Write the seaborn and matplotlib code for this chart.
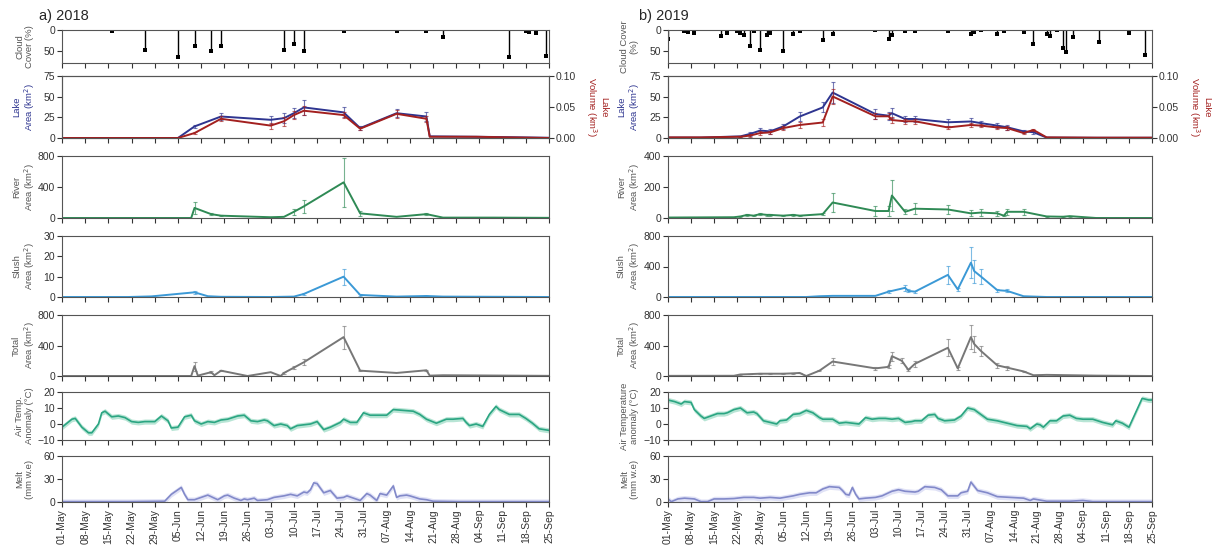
import matplotlib
matplotlib.use("Agg")
import matplotlib.pyplot as plt
import numpy as np
import seaborn as sns

sns.set_style("ticks")
plt.rcParams['font.family'] = ['Liberation Sans', 'DejaVu Sans']

# x axis in days since 1 May
tick_days = list(range(0, 148, 7))
tick_labels = ['01-May', '08-May', '15-May', '22-May', '29-May', '05-Jun', '12-Jun',
               '19-Jun', '26-Jun', '03-Jul', '10-Jul', '17-Jul', '24-Jul', '31-Jul',
               '07-Aug', '14-Aug', '21-Aug', '28-Aug', '04-Sep', '11-Sep', '18-Sep', '25-Sep']

# ---------------- 2018 ----------------
# (day, cloud %)
cloud18 = [(15, 2), (25, 48), (35, 64), (40, 37), (45, 50), (48, 38), (67, 47), (70, 32),
           (73, 50), (85, 3), (101, 2), (110, 2), (115, 17), (135, 64), (140, 2), (141, 4),
           (143, 8), (146, 62)]
# (day, area, area err, volume, volume err)
lake18 = [(0, 0, 0, 0, 0), (35, 0, 0, 0, 0), (40, 14, 2, 0.008, 0.002), (48, 26, 4, 0.031, 0.004),
          (63, 22, 5, 0.020, 0.005), (67, 24, 6, 0.027, 0.007), (70, 30, 6, 0.037, 0.007),
          (73, 37, 9, 0.044, 0.007), (85, 31, 6, 0.037, 0.005), (90, 12, 2, 0.015, 0.002),
          (101, 30, 5, 0.039, 0.006), (110, 26, 5, 0.031, 0.005), (111, 2, 0, 0.002, 0),
          (125, 1.5, 0, 0.002, 0), (135, 1, 0, 0.001, 0), (147, 0.3, 0, 0.0, 0)]
# (day, area, err)
river18 = [(0, 0, 0), (39, 0, 0), (40, 130, 80), (45, 50, 15), (48, 30, 5), (63, 10, 0),
           (67, 15, 0), (70, 80, 40), (73, 150, 80), (85, 460, 320), (90, 60, 30), (101, 15, 0),
           (110, 50, 15), (115, 5, 0), (130, 5, 0), (147, 2, 0)]
slush18 = [(0, 0, 0), (20, 0, 0), (27, 0.3, 0), (40, 2.3, 0.7), (44, 0.4, 0), (48, 0.1, 0),
           (63, 0, 0), (70, 0.2, 0), (73, 1.5, 0.3), (85, 10, 4), (90, 1, 0.3), (101, 0.2, 0),
           (110, 0.5, 0.2), (115, 0.2, 0), (147, 0, 0)]
total18 = [(0, 0, 0), (39, 0, 0), (40, 130, 60), (41, 5, 0), (45, 50, 10), (46, 10, 0),
           (48, 70, 10), (56, 0, 0), (63, 50, 0), (66, 0, 0), (67, 40, 10), (70, 110, 20),
           (73, 180, 40), (85, 510, 150), (90, 70, 10), (101, 40, 0), (110, 75, 10), (111, 5, 0),
           (115, 10, 0), (147, 2, 0)]
# (day, value)
air18 = [(0, -2), (3, 3), (4, 3.5), (6, -2), (8, -5.5), (9, -5.5), (11, 0), (12, 7), (13, 8),
         (15, 4.5), (17, 5), (19, 4), (21, 1.5), (23, 1), (25, 1.5), (28, 1.5), (30, 5), (32, 2),
         (33, -2.5), (35, -2), (37, 4.5), (39, 5.5), (40, 2), (42, 0), (44, 1.5), (46, 1),
         (48, 2.5), (50, 3), (53, 5), (55, 5.5), (57, 2), (59, 1.5), (61, 2.5), (62, 2), (64, -1),
         (66, 0), (68, -1), (69, -3), (71, -1), (73, -0.5), (75, 0), (77, 1.5), (79, -3.5),
         (81, -2), (84, 1), (85, 3), (87, 1), (89, 1), (91, 7), (93, 5.5), (95, 5.5), (98, 5.5),
         (100, 9), (103, 8.5), (106, 8), (108, 6), (110, 3), (113, 0.5), (116, 3), (118, 3),
         (121, 3.5), (122, 1), (123, -1), (125, 0), (127, -1.5), (129, 6), (131, 11), (132, 9),
         (135, 6), (138, 6), (140, 3.5), (142, 0.5), (144, -3), (147, -4)]
melt18 = [(0, 0.5), (20, 0.5), (31, 1), (33, 10), (34, 13), (36, 19), (37, 10), (38, 3), (40, 3),
          (42, 6), (44, 9), (46, 5), (47, 3), (49, 8), (50, 9), (52, 5), (54, 2), (55, 4), (56, 3),
          (58, 5), (59, 2), (62, 3), (64, 6), (67, 8), (69, 10), (71, 8), (73, 13), (74, 12),
          (75, 16), (76, 25), (77, 24), (79, 12), (81, 15), (83, 5), (85, 6), (86, 8), (88, 5),
          (90, 2), (92, 11), (93, 9), (95, 2), (96, 11), (98, 9), (100, 21), (101, 6), (102, 8),
          (104, 9), (105, 8), (108, 4), (110, 3), (112, 1), (120, 0.5), (147, 0.5)]

# ---------------- 2019 ----------------
cloud19 = [(0, 22), (5, 2), (6, 4), (8, 8), (16, 14), (18, 8), (21, 3), (22, 7), (23, 12),
           (25, 38), (26, 2), (28, 48), (30, 12), (31, 8), (35, 50), (38, 10), (40, 2), (47, 24),
           (50, 10), (63, 1), (67, 22), (68, 12), (72, 2), (75, 2), (85, 3), (92, 10), (93, 4),
           (95, 1), (100, 10), (102, 2), (108, 5), (111, 33), (115, 10), (116, 14), (118, 1),
           (120, 42), (121, 52), (123, 16), (131, 28), (140, 8), (145, 60)]
lake19 = [(0, 0.5, 0, 0.001, 0), (10, 0.5, 0, 0.001, 0), (22, 2, 1, 0.002, 0.001),
          (25, 5, 2, 0.004, 0.002), (28, 9, 3, 0.008, 0.003), (31, 8, 3, 0.009, 0.003),
          (35, 14, 3, 0.016, 0.003), (40, 26, 5, 0.021, 0.005), (47, 37, 6, 0.025, 0.006),
          (50, 55, 13, 0.067, 0.012), (63, 29, 6, 0.035, 0.005), (67, 27, 5, 0.035, 0.005),
          (68, 30, 6, 0.029, 0.005), (72, 23, 4, 0.027, 0.004), (75, 23, 4, 0.027, 0.004),
          (85, 19, 4, 0.017, 0.003), (92, 20, 4, 0.021, 0.004), (95, 18, 3, 0.020, 0.003),
          (100, 15, 3, 0.017, 0.003), (103, 13, 3, 0.016, 0.003), (108, 8, 2, 0.008, 0.002),
          (111, 7, 2, 0.013, 0.002), (115, 0.5, 0, 0.001, 0), (130, 0.3, 0, 0.0005, 0),
          (147, 0.3, 0, 0.0005, 0)]
river19 = [(0, 3, 0), (20, 5, 0), (22, 10, 3), (24, 20, 5), (26, 15, 5), (28, 25, 5), (30, 20, 5),
           (31, 20, 5), (35, 15, 4), (38, 20, 5), (40, 15, 4), (47, 25, 8), (50, 100, 60),
           (63, 45, 30), (67, 45, 30), (68, 145, 100), (72, 40, 15), (75, 60, 35), (85, 55, 30),
           (92, 30, 20), (95, 35, 20), (100, 30, 15), (102, 15, 5), (103, 40, 20), (108, 40, 20),
           (115, 10, 3), (120, 8, 3), (122, 12, 3), (130, 0, 0), (147, 0, 0)]
slush19 = [(0, 0, 0), (42, 0, 0), (46, 10, 0), (50, 15, 0), (63, 15, 0), (67, 70, 20),
           (72, 120, 40), (73, 80, 20), (75, 70, 15), (85, 290, 120), (88, 100, 20),
           (92, 450, 200), (93, 340, 150), (95, 270, 100), (100, 90, 20), (103, 80, 20),
           (108, 10, 0), (115, 0, 0), (147, 0, 0)]
total19 = [(0, 2, 0), (20, 3, 0), (22, 20, 5), (25, 25, 5), (28, 30, 5), (31, 30, 5), (35, 30, 5),
           (38, 35, 5), (40, 40, 5), (42, 0, 0), (46, 70, 10), (50, 190, 40), (63, 100, 20),
           (67, 120, 20), (68, 260, 60), (71, 200, 30), (73, 80, 15), (75, 160, 40),
           (85, 370, 110), (88, 100, 20), (92, 510, 160), (93, 420, 100), (95, 330, 70),
           (100, 140, 30), (103, 110, 25), (108, 60, 10), (111, 10, 0), (115, 15, 0),
           (130, 5, 0), (147, 0, 0)]
air19 = [(0, 15), (2, 14), (4, 12.5), (5, 14), (7, 13.5), (8, 9), (10, 5), (11, 3.5), (13, 5),
         (15, 6.5), (17, 6.5), (18, 7), (20, 9), (22, 10), (24, 7), (26, 7.5), (27, 6.5), (29, 2),
         (31, 1), (33, 0), (34, 2), (36, 2.5), (38, 6), (40, 6.5), (42, 8.5), (44, 7), (46, 4),
         (47, 3), (50, 3), (52, 0.5), (54, 1), (56, 0.5), (58, 0), (60, 4), (62, 3), (64, 3.5),
         (66, 3.5), (68, 3), (70, 3.5), (72, 1), (74, 1.5), (75, 2), (77, 2), (79, 5.5), (81, 6),
         (82, 3.5), (84, 2), (87, 2.5), (89, 5), (91, 10), (93, 9), (95, 6), (97, 3), (100, 2),
         (103, 0.5), (106, -1), (109, -1.5), (110, -3), (112, 0), (113, -0.5), (114, -2),
         (116, 2), (118, 2), (120, 5), (122, 5.5), (124, 3.5), (126, 3), (129, 3), (132, 1),
         (135, -0.5), (136, 2), (138, 0.5), (140, -2), (142, 7), (144, 16), (146, 15), (147, 15)]
melt19 = [(0, 4), (1, 0.5), (3, 4), (5, 5), (8, 4), (10, 0.5), (12, 0.5), (14, 4), (17, 4),
          (20, 4.5), (23, 6), (26, 6), (28, 5), (31, 6), (34, 5), (38, 8), (40, 10), (43, 12),
          (45, 12), (47, 17), (49, 20), (52, 19), (53, 15), (54, 10), (55, 9), (56, 19), (57, 10),
          (58, 4), (60, 5), (63, 6), (65, 8), (68, 14), (70, 16), (72, 14), (75, 13), (76, 14),
          (78, 20), (81, 19), (83, 16), (85, 8), (88, 8), (89, 12), (91, 14), (92, 26), (94, 15),
          (97, 12), (100, 7), (104, 6), (108, 5), (110, 2), (111, 4), (115, 1), (122, 1), (126, 2),
          (129, 0.5), (147, 0.5)]

air_unc = 1.6   # half width of air temperature band
melt_unc = 3.5  # half width of melt band

C_AREA, C_VOL = '#2e3590', '#a3201f'
C_RIVER, C_SLUSH, C_TOTAL = '#2f8a55', '#3b99d6', '#777777'
C_AIR, C_MELT = '#2ba582', '#8289c9'
C_LAB = '#555555'

W, H = 1212, 550
fig = plt.figure(figsize=(W / 100, H / 100), dpi=100)

rows = {'cloud': (30, 63), 'lake': (76, 138), 'river': (156, 218), 'slush': (236, 297),
        'total': (315, 376), 'air': (392, 440), 'melt': (456, 502)}


def cols(data):
    return [np.array(c, dtype=float) for c in zip(*data)]


def add_ax(x0, x1, key):
    top, bot = rows[key]
    return fig.add_axes([x0 / W, 1 - bot / H, (x1 - x0) / W, (bot - top) / H])


def style(ax, last=False):
    ax.set_xlim(0, 147)
    ax.set_xticks(tick_days)
    if last:
        ax.set_xticklabels(tick_labels, rotation=90)
    else:
        ax.set_xticklabels([])
    ax.set_xlabel('')
    ax.set_ylabel('')
    ax.tick_params(labelsize=7.5, length=3.5, width=0.8, colors='#333333', pad=1.5)
    for s in ax.spines.values():
        s.set_color('#555555')
        s.set_linewidth(0.8)


def ylab(ax, text, xpos, color=C_LAB):
    ax.text(xpos, 0.5, text, transform=ax.transAxes, rotation=90, ha='center', va='center',
            fontsize=6.8, color=color, linespacing=1.1)


def errbars(ax, d, v, e, color):
    m = e > 0
    ax.errorbar(d[m], v[m], yerr=e[m], fmt='none', ecolor=color, elinewidth=0.8,
                capsize=1.6, capthick=0.8, alpha=0.65)


def area_panel(ax, data, color, ylim, yticks):
    d, v, e = cols(data)
    sns.lineplot(x=d, y=v, ax=ax, color=color, lw=1.4)
    errbars(ax, d, v, e, color)
    ax.set_ylim(*ylim)
    ax.set_yticks(yticks)


def band_panel(ax, data, unc, color, fill, ylim, yticks):
    d, v = cols(data)
    ax.fill_between(d, v - unc, v + unc, color=fill, lw=0)
    sns.lineplot(x=d, y=v, ax=ax, color=color, lw=1.2)
    ax.set_ylim(*ylim)
    ax.set_yticks(yticks)


def draw_year(x0, x1, title, title_x, cloud, lake, river, slush, total, air, melt,
              river_y, slush_y, labels, labx):
    fig.text(title_x / W, 1 - 16 / H, title, fontsize=10.5, va='center', ha='left')

    ax = add_ax(x0, x1, 'cloud')
    d, v = cols(cloud)
    ax.vlines(d, 0, v, color='black', lw=1.0)
    sns.scatterplot(x=d, y=v, ax=ax, color='black', marker='s', s=6, linewidth=0)
    ax.set_ylim(78, 0)
    ax.set_yticks([0, 50])
    style(ax)
    ylab(ax, labels[0], labx)

    ax = add_ax(x0, x1, 'lake')
    d, a, ae, vol, ve = cols(lake)
    sns.lineplot(x=d, y=a, ax=ax, color=C_AREA, lw=1.4)
    errbars(ax, d, a, ae, C_AREA)
    ax.set_ylim(0, 75)
    ax.set_yticks([0, 25, 50, 75])
    style(ax)
    ylab(ax, 'Lake\nArea (km$^2$)', labx, C_AREA)
    ax2 = ax.twinx()
    sns.lineplot(x=d, y=vol, ax=ax2, color=C_VOL, lw=1.4)
    errbars(ax2, d, vol, ve, C_VOL)
    ax2.set_ylim(0, 0.1)
    ax2.set_yticks([0, 0.05, 0.1])
    ax2.set_yticklabels(['0.00', '0.05', '0.10'])
    style(ax2)
    ax2.text(1.097, 0.5, 'Lake\nVolume (km$^3$)', transform=ax2.transAxes, rotation=270,
             ha='center', va='center', fontsize=6.8, color=C_VOL, linespacing=1.1)

    ax = add_ax(x0, x1, 'river')
    area_panel(ax, river, C_RIVER, *river_y)
    style(ax)
    ylab(ax, 'River\nArea (km$^2$)', labx)

    ax = add_ax(x0, x1, 'slush')
    area_panel(ax, slush, C_SLUSH, *slush_y)
    style(ax)
    ylab(ax, 'Slush\nArea (km$^2$)', labx)

    ax = add_ax(x0, x1, 'total')
    area_panel(ax, total, C_TOTAL, (0, 800), [0, 400, 800])
    style(ax)
    ylab(ax, 'Total\nArea (km$^2$)', labx)

    ax = add_ax(x0, x1, 'air')
    band_panel(ax, air, air_unc, C_AIR, '#b8e5d5', (-10, 20), [-10, 0, 10, 20])
    style(ax)
    ylab(ax, labels[1], labx)

    ax = add_ax(x0, x1, 'melt')
    band_panel(ax, melt, melt_unc, C_MELT, '#e0e2f6', (0, 60), [0, 30, 60])
    style(ax, last=True)
    ylab(ax, 'Melt\n(mm w.e)', labx)


draw_year(62, 549, 'a) 2018', 39, cloud18, lake18, river18, slush18, total18, air18, melt18,
          ((0, 800), [0, 400, 800]), ((0, 30), [0, 10, 20, 30]),
          ['Cloud\nCover (%)', 'Air Temp.\nAnomaly (°C)'], -0.077)
draw_year(668, 1152, 'b) 2019', 639, cloud19, lake19, river19, slush19, total19, air19, melt19,
          ((0, 400), [0, 200, 400]), ((0, 800), [0, 400, 800]),
          ['Cloud Cover\n(%)', 'Air Temperature\nanomaly (°C)'], -0.08)

fig.savefig('out.png', dpi=100)
